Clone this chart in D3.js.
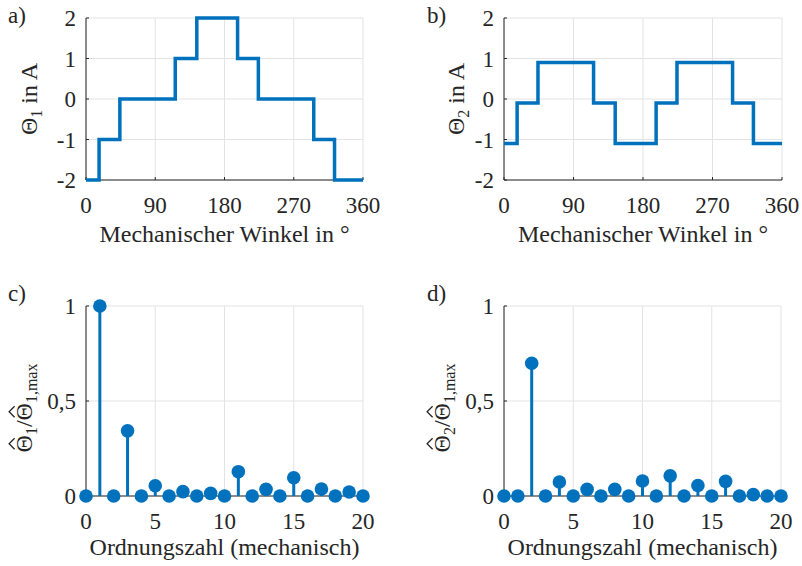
<!DOCTYPE html>
<html>
<head>
<meta charset="utf-8">
<script src="https://cdn.jsdelivr.net/npm/d3@7"></script>
<style>
  body { margin: 0; background: #fff; }
</style>
</head>
<body>
<script>
var width = 802;
var height = 566;

// step edges (mechanical angle in deg) and current levels
var angleEdges = [0, 17, 44, 116, 144, 197, 224, 296, 323, 360];
var theta1 = [-2, -1, 0, 1, 2, 1, 0, -1, -2];
var theta2 = [-1.1, -0.1, 0.9, -0.1, -1.1, -0.1, 0.9, -0.1, -1.1];
var angleTicks = [0, 90, 180, 270, 360];
var currentTicks = [-2, -1, 0, 1, 2];

// harmonic orders and normalised amplitudes
var orders = [0, 1, 2, 3, 4, 5, 6, 7, 8, 9, 10, 11, 12, 13, 14, 15, 16, 17, 18, 19, 20];
var amp1 = [0, 1, 0, 0.343, 0, 0.054, 0, 0.023, 0, 0.014, 0, 0.128, 0, 0.035, 0, 0.096, 0, 0.037, 0, 0.021, 0];
var amp2 = [0, 0, 0.699, 0, 0.074, 0, 0.035, 0, 0.035, 0, 0.079, 0, 0.106, 0, 0.055, 0, 0.077, 0, 0.007, 0, 0];
var orderTicks = [0, 5, 10, 15, 20];
var ampTicks = [0, 0.5, 1];
var ampTickLabels = ["0", "0,5", "1"];

var blue = "#0072BD";
var gridColor = "#e3e3e3";
var axisColor = "#262626";
var fs = 23;   // tick labels
var fl = 24;   // axis labels
var fsub = 16; // subscripts
var font = "'Liberation Serif', 'DejaVu Serif', serif";

var svg = d3.select("body").append("svg")
  .attr("width", width).attr("height", height)
  .style("font-family", font);

function txt(g, size) {
  return g.append("text").attr("font-family", font).attr("fill", axisColor)
    .style("font-size", (size || fs) + "px");
}

function frame(g, x, y, xTicks, yTicks, yFmt) {
  var xr = x.range(), yr = y.range();
  g.selectAll(".gx").data(xTicks).enter().append("line")
    .attr("x1", d => x(d)).attr("x2", d => x(d))
    .attr("y1", yr[0]).attr("y2", yr[1])
    .style("stroke", gridColor).style("stroke-width", 1);
  g.selectAll(".gy").data(yTicks).enter().append("line")
    .attr("y1", d => y(d)).attr("y2", d => y(d))
    .attr("x1", xr[0]).attr("x2", xr[1])
    .style("stroke", gridColor).style("stroke-width", 1);
  g.append("line").attr("x1", xr[0]).attr("x2", xr[1]).attr("y1", yr[0]).attr("y2", yr[0])
    .style("stroke", axisColor).style("stroke-width", 1);
  g.append("line").attr("x1", xr[0]).attr("x2", xr[0]).attr("y1", yr[0]).attr("y2", yr[1])
    .style("stroke", axisColor).style("stroke-width", 1);
  g.selectAll(".tx").data(xTicks).enter().append("line")
    .attr("x1", d => x(d)).attr("x2", d => x(d))
    .attr("y1", yr[0]).attr("y2", yr[0] - 3)
    .style("stroke", axisColor);
  g.selectAll(".ty").data(yTicks).enter().append("line")
    .attr("y1", d => y(d)).attr("y2", d => y(d))
    .attr("x1", xr[0]).attr("x2", xr[0] + 3)
    .style("stroke", axisColor);
  xTicks.forEach(function (d) {
    txt(g).attr("x", x(d)).attr("y", yr[0] + 33).attr("text-anchor", "middle").text(d);
  });
  yTicks.forEach(function (d, i) {
    txt(g).attr("x", xr[0] - 10).attr("y", y(d) + 8).attr("text-anchor", "end").text(yFmt(d, i));
  });
}

function stepPanel(left, right, levels, label, ylabX, sub, panelX) {
  var x = d3.scaleLinear().domain([0, 360]).range([left, right]);
  var y = d3.scaleLinear().domain([-2, 2]).range([180, 18]);
  var g = svg.append("g");
  frame(g, x, y, angleTicks, currentTicks, d => d);

  var pts = levels.map((v, i) => [angleEdges[i], v]);
  pts.push([360, levels[levels.length - 1]]);
  var line = d3.line().x(d => x(d[0])).y(d => y(d[1])).curve(d3.curveStepAfter);
  g.append("path").datum(pts)
    .attr("d", line)
    .style("fill", "none").style("stroke", blue).style("stroke-width", 3.5);

  txt(g, fl).attr("x", (left + right) / 2).attr("y", 242)
    .attr("text-anchor", "middle").text("Mechanischer Winkel in °");

  var yl = txt(g.append("g").attr("transform", "translate(" + ylabX + ",99) rotate(-90)"), fl)
    .attr("text-anchor", "middle");
  yl.append("tspan").text("Θ");
  yl.append("tspan").attr("dy", 5).style("font-size", fsub + "px").text(sub);
  yl.append("tspan").attr("dy", -5).text(" in A");

  txt(g, fs).attr("x", panelX).attr("y", 23).text(label);
}

function hat(gr, textNode, idx) {
  var e = textNode.getExtentOfChar(idx);
  var cx = e.x + e.width / 2;
  var top = e.y + e.height * 0.1;
  gr.append("path")
    .attr("d", "M" + (cx - 5.5) + "," + (top + 1) + "L" + cx + "," + (top - 4.5) + "L" + (cx + 5.5) + "," + (top + 1))
    .style("fill", "none").style("stroke", axisColor).style("stroke-width", 1.3);
}

function stemPanel(left, right, amps, label, ylabX, sub, panelX) {
  var x = d3.scaleLinear().domain([0, 20]).range([left, right]);
  var y = d3.scaleLinear().domain([0, 1]).range([496, 306]);
  var g = svg.append("g");
  frame(g, x, y, orderTicks, ampTicks, (d, i) => ampTickLabels[i]);

  g.selectAll(".stem").data(orders).enter().append("line")
    .attr("x1", d => x(d)).attr("x2", d => x(d))
    .attr("y1", y(0)).attr("y2", (d, i) => y(amps[i]))
    .style("stroke", blue).style("stroke-width", 3);
  g.selectAll(".mk").data(orders).enter().append("circle")
    .attr("cx", d => x(d)).attr("cy", (d, i) => y(amps[i]))
    .attr("r", 6.8).style("fill", blue);

  txt(g, fl).attr("x", (left + right) / 2).attr("y", 555)
    .attr("text-anchor", "middle").text("Ordnungszahl (mechanisch)");

  var gr = g.append("g").attr("transform", "translate(" + ylabX + ",408) rotate(-90)");
  var yl = txt(gr, fl).attr("text-anchor", "middle");
  yl.append("tspan").text("Θ");
  yl.append("tspan").attr("dy", 5).style("font-size", fsub + "px").text(sub);
  yl.append("tspan").attr("dy", -5).text("/Θ");
  yl.append("tspan").attr("dy", 5).style("font-size", fsub + "px").text("1,max");
  var node = yl.node();
  hat(gr, node, 0);
  hat(gr, node, 3);

  txt(g, fs).attr("x", panelX).attr("y", 301).text(label);
}

stepPanel(86, 363, theta1, "a)", 37, "1", 8);
stepPanel(504, 782, theta2, "b)", 464, "2", 427);
stemPanel(86, 363, amp1, "c)", 32, "1", 8);
stemPanel(504, 781, amp2, "d)", 450, "2", 427);
</script>
</body>
</html>
